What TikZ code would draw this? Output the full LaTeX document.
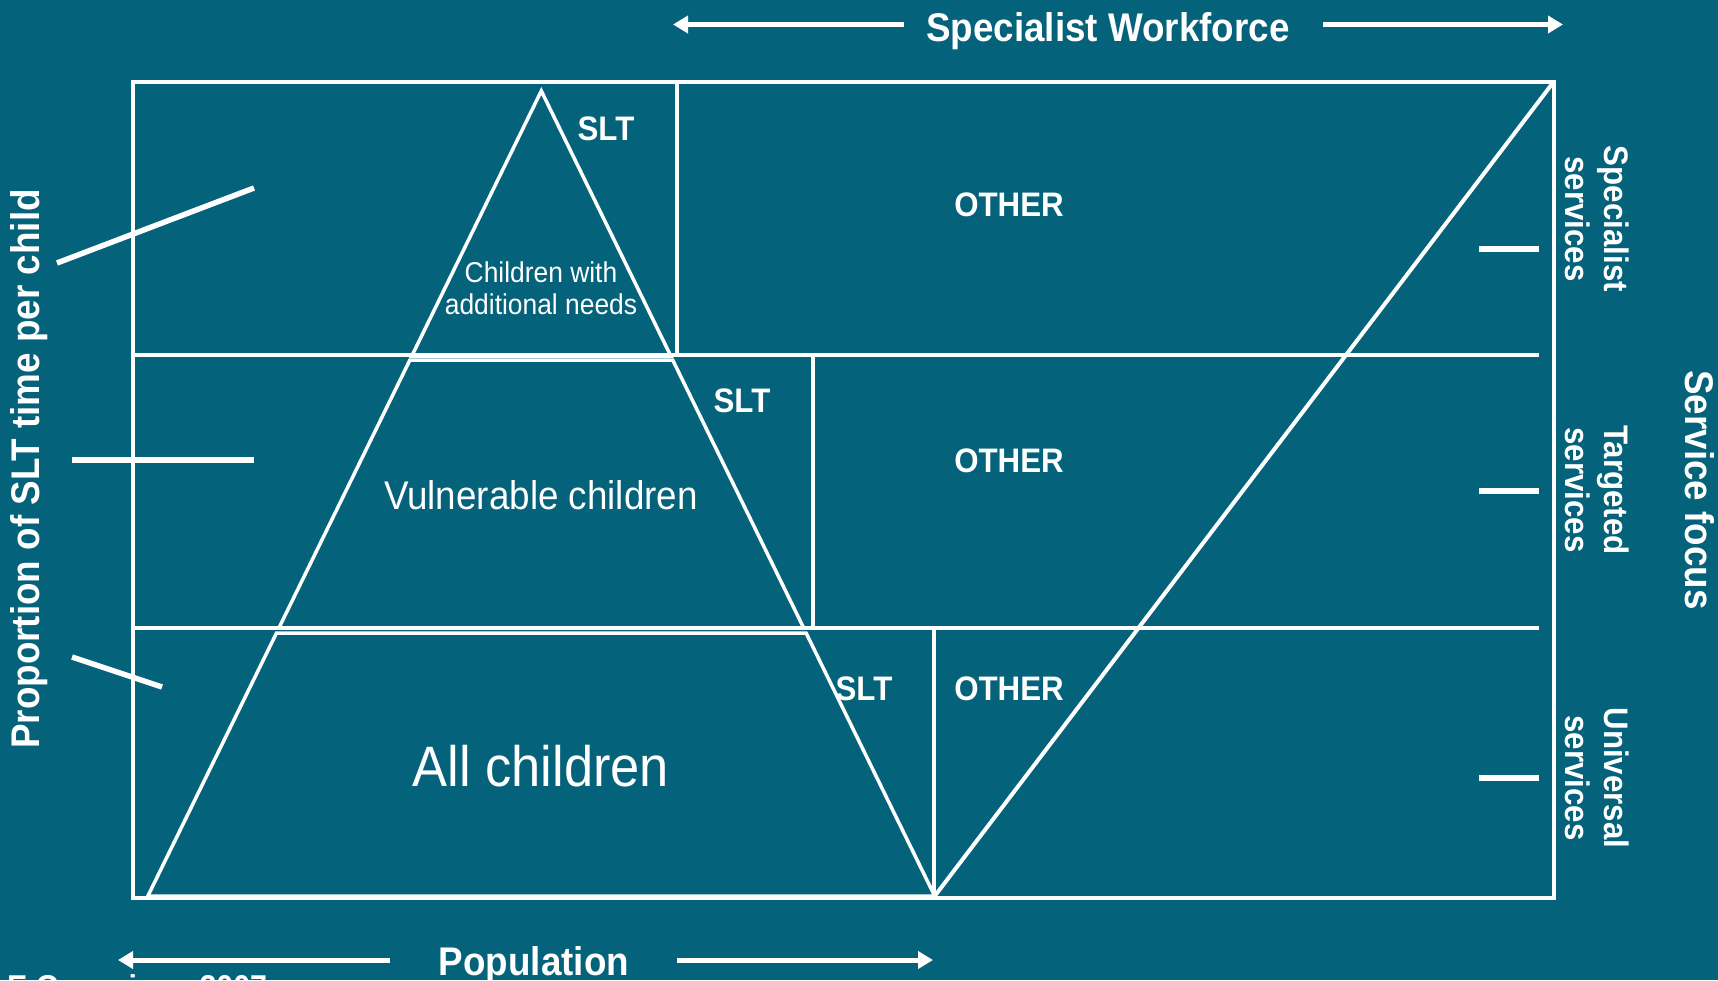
\documentclass[tikz,border=0pt]{standalone}
\usepackage{fontspec}
\setmainfont[FakeStretch=0.92]{Liberation Sans}
\usetikzlibrary{arrows.meta}
\definecolor{bg}{RGB}{4,98,122}
\newcommand{\fsz}[2]{\fontsize{#1}{#2}\selectfont}
\begin{document}
\begin{tikzpicture}[x=1pt,y=-1pt,
  frame/.style={draw=white,line width=4.5pt},
  rowline/.style={draw=white,line width=4.5pt},
  divider/.style={draw=white,line width=4pt},
  pyr/.style={draw=white,line width=3.5pt,line join=miter},
  vline/.style={draw=white,line width=4pt},
  tickmark/.style={draw=white,line width=5.5pt},
  arr/.style={draw=white,line width=5pt,-{Triangle[length=15pt,width=17pt]}},
  lbl/.style={text=white,inner sep=0pt,anchor=base},
  rlbl/.style={text=white,inner sep=0pt,align=center},
]
\useasboundingbox (0,0) rectangle (1718,980);
\clip (0,0) rectangle (1718,980);
\fill[bg] (0,0) rectangle (1718,980);

% frame
\coordinate (TL) at (133,82);
\coordinate (BR) at (1554,898);
\draw[frame] (TL) rectangle (BR);

% row lines
\coordinate (r1a) at (133,355); \coordinate (r1b) at (1539,355);
\coordinate (r2a) at (133,628); \coordinate (r2b) at (1539,628);
\draw[rowline] (r1a) -- (r1b);
\draw[rowline] (r2a) -- (r2b);

% dividers
\coordinate (v1t) at (677,82);  \coordinate (v1b) at (677,355);
\coordinate (v2t) at (813,355); \coordinate (v2b) at (813,628);
\coordinate (v3t) at (934,628); \coordinate (v3b) at (934,898);
\draw[divider] (v1t) -- (v1b);
\draw[divider] (v2t) -- (v2b);
\draw[divider] (v3t) -- (v3b);

% V line
\coordinate (vb) at (934,897);
\coordinate (vt) at (1552,84);
\draw[vline] (vb) -- (vt);

% pyramid pieces
\coordinate (apex) at (541.3,90.9);
\coordinate (p1l) at (411.8,356); \coordinate (p1r) at (670.8,356);
\draw[pyr] (apex) -- (p1r) -- (p1l) -- cycle;
\coordinate (p2tl) at (409.9,360); \coordinate (p2tr) at (672.7,360);
\coordinate (p2bl) at (278.9,628); \coordinate (p2br) at (803.7,628);
\draw[pyr] (p2tl) -- (p2tr) -- (p2br) -- (p2bl) -- cycle;
\coordinate (p3tl) at (276.5,633); \coordinate (p3tr) at (806.1,633);
\coordinate (p3bl) at (147.9,896); \coordinate (p3br) at (934.7,896);
\draw[pyr] (p3tl) -- (p3tr) -- (p3br) -- (p3bl) -- cycle;

% left ticks
\coordinate (lt1a) at (57,263);  \coordinate (lt1b) at (254,188);
\coordinate (lt2a) at (72,460);  \coordinate (lt2b) at (254,460);
\coordinate (lt3a) at (72,657);  \coordinate (lt3b) at (162,687);
\draw[tickmark] (lt1a) -- (lt1b);
\draw[tickmark] (lt2a) -- (lt2b);
\draw[tickmark] (lt3a) -- (lt3b);

% right ticks
\coordinate (rt1a) at (1479,249); \coordinate (rt1b) at (1539,249);
\coordinate (rt2a) at (1479,491); \coordinate (rt2b) at (1539,491);
\coordinate (rt3a) at (1479,778); \coordinate (rt3b) at (1539,778);
\draw[tickmark] (rt1a) -- (rt1b);
\draw[tickmark] (rt2a) -- (rt2b);
\draw[tickmark] (rt3a) -- (rt3b);

% top arrows
\node[lbl,font=\fsz{40}{40}\bfseries] (sw) at (1108,41.5) {Specialist Workforce};
\coordinate (swl1) at (904,24.5); \coordinate (swl2) at (673,24.5);
\coordinate (swr1) at (1323,24.5); \coordinate (swr2) at (1563,24.5);
\draw[arr] (swl1) -- (swl2);
\draw[arr] (swr1) -- (swr2);

% bottom arrows
\node[lbl,font=\fsz{40}{40}\bfseries] (pop) at (534,975) {Population};
\coordinate (pl1) at (390,960); \coordinate (pl2) at (118,960);
\coordinate (pr1) at (677,960); \coordinate (pr2) at (933,960);
\draw[arr] (pl1) -- (pl2);
\draw[arr] (pr1) -- (pr2);

\node[lbl,anchor=base west,font=\fsz{33}{33}\bfseries] (cr) at (7,998.5) {E Gascoigne 2007};

% side labels
\node[rlbl,rotate=90,font=\fsz{40}{40}\bfseries] (ylab) at (29.5,469) {Proportion of SLT time per child};
\node[rlbl,rotate=-90,font=\fsz{40}{40}\bfseries] (sfoc) at (1700,490) {Service focus};
\node[rlbl,rotate=-90,font=\fsz{34}{39.5}\bfseries] (ss) at (1597,219) {Specialist\\services};
\node[rlbl,rotate=-90,font=\fsz{34}{39.5}\bfseries] (ts) at (1597,490) {Targeted\\services};
\node[rlbl,rotate=-90,font=\fsz{34}{39.5}\bfseries] (us) at (1597,778) {Universal\\services};

% inner labels
\node[lbl,font=\fsz{34}{34}\bfseries] (slt1) at (606,140) {SLT};
\node[lbl,font=\fsz{34}{34}\bfseries] (slt2) at (742,412) {SLT};
\node[lbl,font=\fsz{34}{34}\bfseries] (slt3) at (864,700) {SLT};
\node[lbl,font=\fsz{34}{34}\bfseries] (oth1) at (1009,216) {OTHER};
\node[lbl,font=\fsz{34}{34}\bfseries] (oth2) at (1009,472) {OTHER};
\node[lbl,font=\fsz{34}{34}\bfseries] (oth3) at (1009,700) {OTHER};

\node[lbl,font=\fsz{28.7}{32}] (cw1) at (541,282.5) {Children with};
\node[lbl,font=\fsz{28.7}{32}] (cw2) at (541,314) {additional needs};
\node[lbl,font=\fsz{40}{40}] (vul) at (541,509) {Vulnerable children};
\node[lbl,font=\fsz{57}{57}] (all) at (541,786) {All children};
\end{tikzpicture}
\end{document}
